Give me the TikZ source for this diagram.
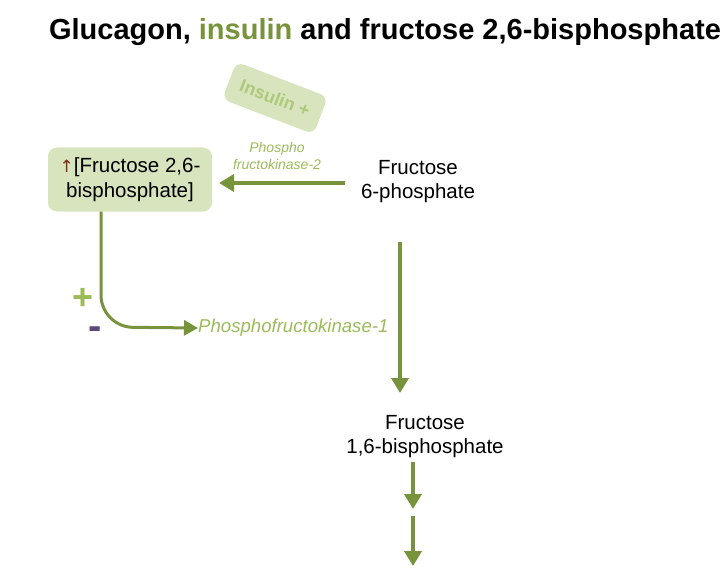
\documentclass[tikz,border=0pt]{standalone}
\usepackage{fontspec}
\setmainfont{Liberation Sans}
\newfontfamily\symfont{DejaVu Sans}
\usetikzlibrary{arrows.meta}
\definecolor{arrowgreen}{HTML}{77933C}
\definecolor{textgreen}{HTML}{9BBB59}
\definecolor{boxgreen}{HTML}{D7E4BD}
\definecolor{minuspurple}{HTML}{5F497A}
\definecolor{uparrow}{HTML}{7F2A1A}
\tikzset{
  thickarrow/.style={draw=arrowgreen, line width=4.5pt, -{Triangle[length=15pt,width=17pt]}},
  thinarrow/.style={draw=arrowgreen, line width=3pt, -{Triangle[length=14pt,width=15pt]}},
  label/.style={font=\fontsize{20.5}{24}\selectfont, align=center, inner sep=0pt},
  enzyme/.style={font=\itshape, text=textgreen, align=center, inner sep=0pt},
}
\begin{document}
\begin{tikzpicture}[x=1pt,y=-1pt]
\useasboundingbox (0,0) rectangle (727,572);
\node[font=\bfseries\fontsize{29}{32}\selectfont, anchor=base, inner sep=0pt] (title) at (385,40) {Glucagon, \textcolor{arrowgreen}{insulin} and fructose 2,6-bisphosphate};
\node[fill=boxgreen, rounded corners=8pt, rotate=-21, minimum width=98pt, minimum height=40pt, inner sep=0pt, text=textgreen!80!white, font=\bfseries\fontsize{18}{20}\selectfont] (ins) at (275,98) {Insulin +};
\node[fill=boxgreen, rounded corners=9pt, minimum width=164pt, minimum height=64pt, label, font=\fontsize{20.5}{24.5}\selectfont] (f26) at (130,179.5) {{\symfont\textcolor{uparrow}{\fontsize{17}{20}\selectfont↑}}[Fructose 2,6-\\bisphosphate]};
\node[enzyme, font=\itshape\fontsize{14}{17}\selectfont] (pfk2) at (277,156) {Phospho\\fructokinase-2};
\node[label] (f6p) at (418,182) {Fructose\\6-phosphate};
\node[label] (f16) at (425,437) {Fructose\\1,6-bisphosphate};
\node[enzyme, font=\itshape\fontsize{18.6}{22}\selectfont, anchor=west] (pfk1) at (198,328) {Phosphofructokinase-1};
\node[text=textgreen, font=\bfseries\fontsize{36}{36}\selectfont, inner sep=0pt] (plus) at (83,299) {+};
\node[text=minuspurple, font=\bfseries\fontsize{40}{40}\selectfont, inner sep=0pt] (minus) at (95,333) {-};
\coordinate (c1) at (345,183);
\coordinate (c1b) at (219,183);
\coordinate (c2) at (400,242);
\coordinate (c3) at (400,393);
\coordinate (c4) at (413,462);
\coordinate (c5) at (413,509);
\coordinate (c6) at (413,516);
\coordinate (c7) at (413,566);
\draw[thickarrow] (c1) -- (c1b);
\draw[thickarrow] (c2) -- (c3);
\draw[thickarrow] (c4) -- (c5);
\draw[thickarrow] (c6) -- (c7);
\draw[thinarrow, rounded corners=32pt] (f26.south -| 101,0) -- (101,327) -- (pfk1.west);
\end{tikzpicture}
\end{document}
